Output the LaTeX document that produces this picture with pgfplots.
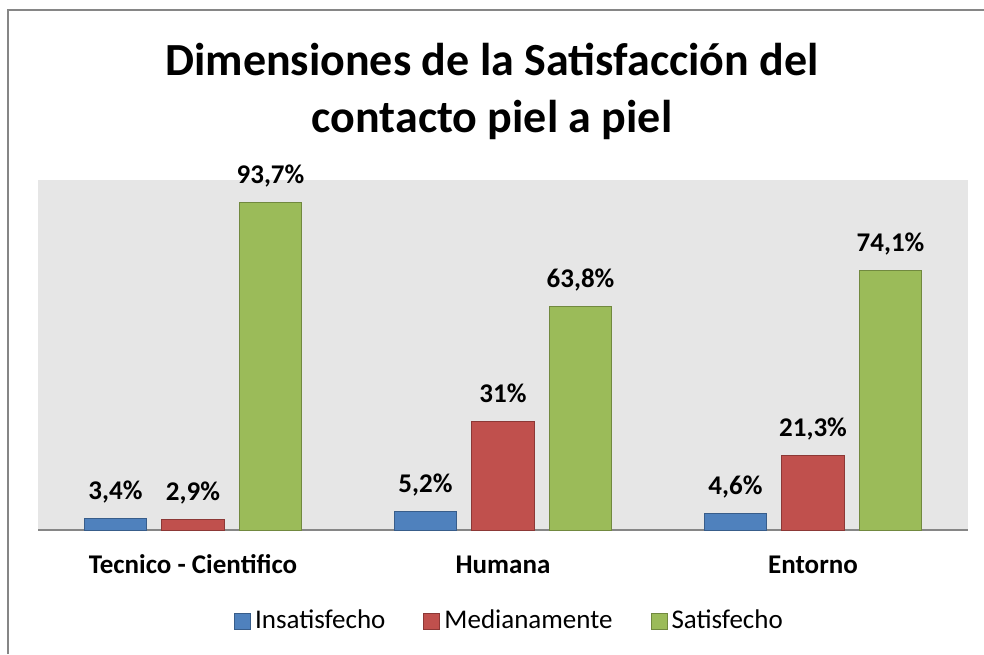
\documentclass[border=0pt]{standalone}
\usepackage{pgfplots}
\pgfplotsset{compat=1.18}
\usepackage{fontspec}
\setmainfont{Carlito}
\definecolor{cblue}{RGB}{79,129,189}
\definecolor{cblueD}{RGB}{56,93,138}
\definecolor{cred}{RGB}{192,80,77}
\definecolor{credD}{RGB}{140,56,54}
\definecolor{cgreen}{RGB}{155,187,89}
\definecolor{cgreenD}{RGB}{113,137,63}
\definecolor{bggray}{RGB}{230,230,230}
\definecolor{framegray}{RGB}{134,134,134}
\begin{document}
\begin{tikzpicture}
\useasboundingbox (0,0) rectangle (492pt,327pt);
\draw[color=framegray, line width=1pt] (4pt,0) -- (4pt,322pt) -- (492pt,322pt);
\node[anchor=base, inner sep=0pt, font=\bfseries\fontsize{23}{27}\selectfont] at (246pt,289pt) {Dimensiones de la Satisfacción del};
\node[anchor=base, inner sep=0pt, font=\bfseries\fontsize{23}{27}\selectfont] at (246pt,260.5pt) {contacto piel a piel};
\begin{axis}[
  at={(19pt,62pt)}, anchor=south west,
  scale only axis, width=465pt, height=175pt,
  xmin=-0.5, xmax=2.5, ymin=0, ymax=100,
  enlargelimits=false,
  ybar, bar width=0.203,
  axis background/.style={fill=bggray},
  axis x line*=bottom, axis y line=none,
  x axis line style={color=framegray, line width=1pt, -},
  xtick={0,1,2},
  xticklabels={Tecnico - Cientifico, Humana, Entorno},
  xtick style={draw=none},
  ytick=\empty,
  xticklabel style={anchor=base, yshift=-17.5pt, font=\bfseries\fontsize{13.5}{16}\selectfont},
  point meta=explicit symbolic,
  nodes near coords,
  every node near coord/.append style={anchor=base, yshift=9.5pt, font=\bfseries\fontsize{13.5}{16}\selectfont, color=black},
  legend style={at={(0.508,-0.26)}, anchor=center, legend columns=3, draw=none, fill=none,
    font=\fontsize{13.5}{16}\selectfont,
    /tikz/every even column/.append style={column sep=17pt}},
  legend image code/.code={\draw[#1, line width=0.5pt] (0pt,-4pt) rectangle (8pt,4pt);},
  legend cell align=left,
]
\addplot[fill=cblue, draw=cblueD, line width=0.5pt, bar shift=-0.25] coordinates {(0,3.4) [3,4\%] (1,5.2) [5,2\%] (2,4.6) [4,6\%]};
\addlegendentry{Insatisfecho}
\addplot[fill=cred, draw=credD, line width=0.5pt, bar shift=0] coordinates {(0,2.9) [2,9\%] (1,31) [31\%] (2,21.3) [21,3\%]};
\addlegendentry{Medianamente}
\addplot[fill=cgreen, draw=cgreenD, line width=0.5pt, bar shift=0.25] coordinates {(0,93.7) [93,7\%] (1,63.8) [63,8\%] (2,74.1) [74,1\%]};
\addlegendentry{Satisfecho}
\end{axis}
\end{tikzpicture}
\end{document}
